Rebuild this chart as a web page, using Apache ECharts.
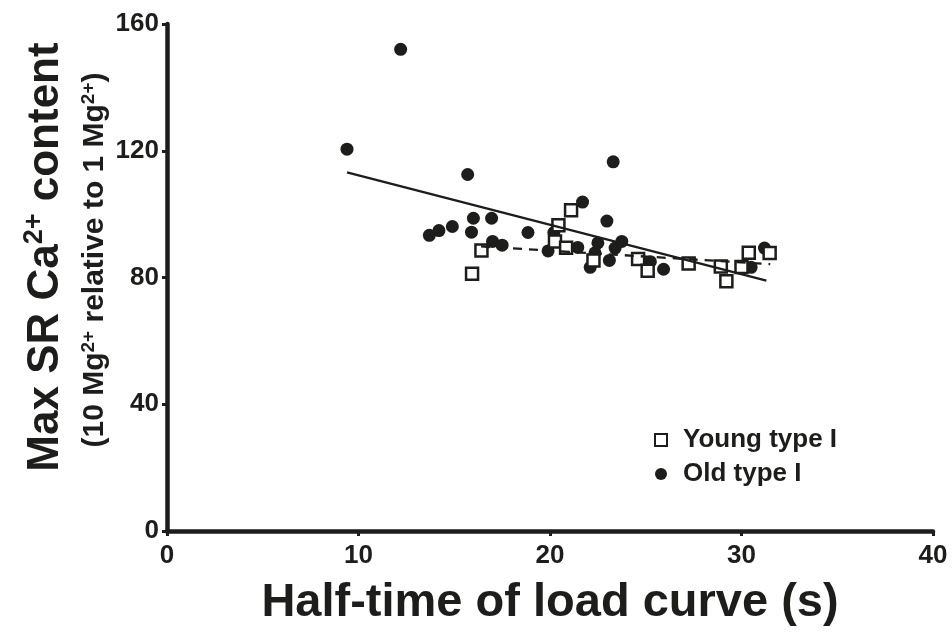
<!DOCTYPE html>
<html>
<head>
<meta charset="utf-8">
<script src="https://cdn.jsdelivr.net/npm/echarts@6/dist/echarts.min.js"></script>
<style>
  html, body { margin: 0; padding: 0; background: #fff; }
  #chart { width: 952px; height: 632px; }
</style>
</head>
<body>
<div id="chart"></div>
<script>
// Old type I (filled circles): half-time (s), max SR Ca content
var oldX = [9.4, 12.2, 13.7, 14.2, 14.9, 15.7, 15.9, 16.0, 16.95, 17.0, 17.5, 18.85, 19.9, 20.2,
  21.45, 21.7, 22.1, 22.35, 22.5, 22.97, 23.1, 23.3, 23.4, 23.75, 25.24, 25.93, 30.5, 31.2]
var oldY = [120.5, 152, 93.3, 94.8, 96.1, 112.5, 94.3, 98.7, 98.7, 91.4, 90.2, 94.2, 88.4, 94.2,
  89.5, 103.8, 83.2, 87.8, 90.9, 97.8, 85.4, 116.5, 89.3, 91.4, 85.0, 82.6, 83.2, 89.3]
// Young type I (open squares)
var youngX = [15.93, 16.42, 20.26, 20.44, 20.84, 21.1, 22.27, 24.6, 25.1, 27.24, 28.92, 29.21, 30.0, 30.38, 31.47]
var youngY = [81.2, 88.5, 91.4, 96.5, 89.4, 101.2, 85.4, 85.8, 82.1, 84.4, 83.5, 78.8, 83.3, 87.8, 87.7]
// regression lines (end points)
var fitOldX = [9.4, 31.3]
var fitOldY = [113.2, 79.0]
var fitYoungX = [16.4, 31.5]
var fitYoungY = [89.8, 84.2]

var xTicks = [0, 40, 10]   // min, max, interval
var yTicks = [0, 160, 40]

function pairs(xs, ys) {
  return xs.map(function(x, i) { return [x, ys[i]] })
}

var ink = '#1d1d1b'
var chart = echarts.init(document.getElementById('chart'))
var option = {
  animation: false,
  backgroundColor: '#fff',
  grid: { left: 167, right: 19, top: 24, bottom: 98 },
  legend: {
    data: ['Young type I', 'Old type I'],
    orient: 'vertical',
    left: 649,
    top: 420,
    itemWidth: 12,
    itemHeight: 12,
    itemGap: 4,
    textStyle: {
      fontFamily: 'Liberation Sans',
      fontWeight: 'bold',
      fontSize: 26,
      lineHeight: 30,
      color: ink,
      padding: [0, 0, 0, 11]
    }
  },
  xAxis: {
    type: 'value',
    min: xTicks[0],
    max: xTicks[1],
    interval: xTicks[2],
    splitLine: { show: false },
    axisLine: { lineStyle: { color: ink, width: 4.5 } },
    axisTick: { length: 5, lineStyle: { color: ink, width: 3 } },
    axisLabel: { margin: 12, color: ink, fontFamily: 'Liberation Sans', fontWeight: 'bold', fontSize: 26 },
    name: 'Half-time of load curve (s)',
    nameLocation: 'middle',
    nameGap: 49,
    nameTextStyle: { color: ink, fontFamily: 'Liberation Sans', fontWeight: 'bold', fontSize: 47 }
  },
  yAxis: {
    type: 'value',
    min: yTicks[0],
    max: yTicks[1],
    interval: yTicks[2],
    splitLine: { show: false },
    axisLine: { lineStyle: { color: ink, width: 4.5 } },
    axisTick: { length: 5, lineStyle: { color: ink, width: 3 } },
    axisLabel: { margin: 8, color: ink, fontFamily: 'Liberation Sans', fontWeight: 'bold', fontSize: 26 }
  },
  graphic: [
    {
      type: 'text',
      x: 46,
      y: 257,
      rotation: Math.PI / 2,
      style: {
        text: '{a|Max SR Ca}{s|2+}{a| content}',
        align: 'center',
        verticalAlign: 'middle',
        fill: ink,
        rich: {
          a: { fontFamily: 'Liberation Sans', fontWeight: 'bold', fontSize: 44, lineHeight: 50, fill: ink },
          s: { fontFamily: 'Liberation Sans', fontWeight: 'bold', fontSize: 27, lineHeight: 28, verticalAlign: 'top', fill: ink }
        }
      }
    },
    {
      type: 'text',
      x: 95,
      y: 260,
      rotation: Math.PI / 2,
      style: {
        text: '{a|(10 Mg}{s|2+}{a| relative to 1 Mg}{s|2+}{a|)}',
        align: 'center',
        verticalAlign: 'middle',
        fill: ink,
        rich: {
          a: { fontFamily: 'Liberation Sans', fontWeight: 'bold', fontSize: 30, lineHeight: 32, fill: ink },
          s: { fontFamily: 'Liberation Sans', fontWeight: 'bold', fontSize: 19, lineHeight: 19, verticalAlign: 'top', fill: ink }
        }
      }
    }
  ],
  series: [
    {
      name: 'Old type I',
      type: 'scatter',
      symbol: 'circle',
      symbolSize: 13,
      itemStyle: { color: ink, opacity: 1 },
      data: pairs(oldX, oldY),
      z: 2
    },
    {
      name: 'Young type I',
      type: 'scatter',
      symbol: 'rect',
      symbolSize: 12,
      itemStyle: { color: '#fff', borderColor: ink, borderWidth: 2.5, opacity: 1 },
      data: pairs(youngX, youngY),
      z: 3
    },
    {
      name: 'fit old',
      type: 'line',
      symbol: 'none',
      lineStyle: { color: ink, width: 2.3 },
      data: pairs(fitOldX, fitOldY),
      z: 4
    },
    {
      name: 'fit young',
      type: 'line',
      symbol: 'none',
      lineStyle: { color: ink, width: 2.3, type: [9, 7] },
      data: pairs(fitYoungX, fitYoungY),
      z: 4
    }
  ]
}
chart.setOption(option)
window.addEventListener('resize', function() {
  chart.resize()
})
</script>
</body>
</html>
